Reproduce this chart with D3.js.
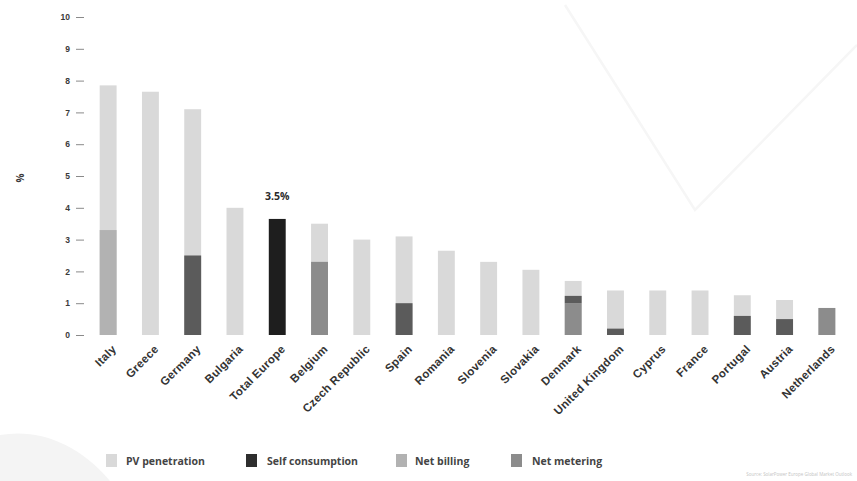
<!DOCTYPE html>
<html>
<head>
<meta charset="utf-8">
<script src="https://cdn.jsdelivr.net/npm/d3@7/dist/d3.min.js"></script>
<style>
  html, body { margin: 0; padding: 0; background: #fff; }
  svg { display: block; font-family: "Open Sans", "DejaVu Sans", sans-serif; }
</style>
</head>
<body>
<svg id="chart" width="857" height="481"></svg>
<script>
// ---- data ----
const countries = ["Italy","Greece","Germany","Bulgaria","Total Europe","Belgium","Czech Republic","Spain","Romania","Slovenia","Slovakia","Denmark","United Kingdom","Cyprus","France","Portugal","Austria","Netherlands"];
const pvPenetration   = [7.85, 7.65, 7.1, 4.0, 3.65, 3.5, 3.0, 3.1, 2.65, 2.3, 2.05, 1.7, 1.4, 1.4, 1.4, 1.25, 1.1, 0.85];
const netMetering     = [0,    0,    0,   0,   0,    2.3, 0,   0,   0,    0,   0,    1.0, 0,   0,   0,   0,    0,   0.85];
const netBilling      = [3.3,  0,    0,   0,   0,    0,   0,   0,   0,    0,   0,    0,   0,   0,   0,   0,    0,   0];
const selfConsumption = [0,    0,    2.5, 0,   0,    0,   0,   1.0, 0,    0,   0,    0.23,0.2, 0,   0,   0.6,  0.5, 0];
const highlightCategory = "Total Europe";
const highlightLabel = "3.5%";
const yTicks = [0,1,2,3,4,5,6,7,8,9,10];
const legendLabels = ["PV penetration","Self consumption","Net billing","Net metering"];

const colors = {
  pv: "#d9d9d9",
  self: "#5b5b5b",
  billing: "#b2b2b2",
  metering: "#8c8c8c",
  highlight: "#1e1e1e",
  legendSelf: "#2e2e2e"
};

const svg = d3.select("#chart");

// faint background watermark
const wm = svg.append("g").attr("fill", "none").attr("stroke", "#f6f6f6").attr("stroke-width", 2.5);
wm.append("path").attr("d", d3.line()([[565, 5], [695, 210], [857, 45]]));
svg.append("path")
  .attr("d", "M0,435 C40,428 80,445 110,481 L0,481 Z")
  .attr("fill", "#f4f4f4");

const x = d3.scaleBand().domain(countries).range([87, 848]).paddingInner(0.6).paddingOuter(0.3);
const y = d3.scaleLinear().domain([0, 10]).range([335, 17]);

// y axis
const yAxis = d3.axisLeft(y).tickValues(yTicks).tickSize(8).tickPadding(6).tickFormat(d3.format("d"));
const gy = svg.append("g").attr("transform", "translate(84,0)").call(yAxis);
gy.select(".domain").remove();
gy.selectAll(".tick line").attr("stroke", "#8a8a8a").attr("stroke-width", 1);
gy.selectAll(".tick text").attr("fill", "#3a3a3a").attr("font-size", 8.5).attr("font-weight", 700);

svg.append("text")
  .attr("transform", "translate(24,178) rotate(-90)")
  .attr("text-anchor", "middle")
  .attr("fill", "#3a3a3a").attr("font-size", 10).attr("font-weight", 700)
  .text("%");

// bars
const rows = countries.map((c, i) => ({
  c, pv: pvPenetration[i], m: netMetering[i], b: netBilling[i], s: selfConsumption[i]
}));
const gb = svg.append("g");
rows.forEach(d => {
  const bx = x(d.c), bw = x.bandwidth();
  gb.append("rect").attr("x", bx).attr("width", bw)
    .attr("y", y(d.pv)).attr("height", y(0) - y(d.pv))
    .attr("fill", d.c === highlightCategory ? colors.highlight : colors.pv);
  let base = 0;
  [["m", colors.metering], ["b", colors.billing], ["s", colors.self]].forEach(([k, col]) => {
    const v = d[k];
    if (v > 0) {
      gb.append("rect").attr("x", bx).attr("width", bw)
        .attr("y", y(base + v)).attr("height", y(base) - y(base + v))
        .attr("fill", col);
      base += v;
    }
  });
});

// highlight label
const hi = countries.indexOf(highlightCategory);
svg.append("text")
  .attr("x", x(highlightCategory) + x.bandwidth() / 2)
  .attr("y", y(pvPenetration[hi]) - 19)
  .attr("text-anchor", "middle")
  .attr("fill", "#2a2a2a").attr("font-size", 10.5).attr("font-weight", 700)
  .text(highlightLabel);

// x axis labels
const xAxis = d3.axisBottom(x).tickSize(0).tickPadding(0);
const gx = svg.append("g").attr("transform", "translate(0,343)").call(xAxis);
gx.select(".domain").remove();
gx.selectAll(".tick text")
  .attr("text-anchor", "end")
  .attr("dy", "0.35em")
  .attr("transform", "translate(6,4) rotate(-45)")
  .attr("fill", "#333").attr("font-size", 11.5).attr("font-weight", 700)
  .attr("letter-spacing", 0.3);

// legend
const legendX = [106, 246, 396, 511];
const legendTextX = [126, 267, 415, 532];
const legendCol = [colors.pv, colors.legendSelf, colors.billing, colors.metering];
const lg = svg.append("g");
legendLabels.forEach((l, i) => {
  lg.append("rect").attr("x", legendX[i]).attr("y", 454).attr("width", 11).attr("height", 13).attr("fill", legendCol[i]);
  lg.append("text").attr("x", legendTextX[i]).attr("y", 464.5)
    .attr("fill", "#444").attr("font-size", 10.5).attr("font-weight", 700).text(l);
});

// source note
svg.append("text").attr("x", 852).attr("y", 476).attr("text-anchor", "end")
  .attr("fill", "#c4c4c4").attr("font-size", 4.5).text("Source: SolarPower Europe Global Market Outlook");
</script>
</body>
</html>
